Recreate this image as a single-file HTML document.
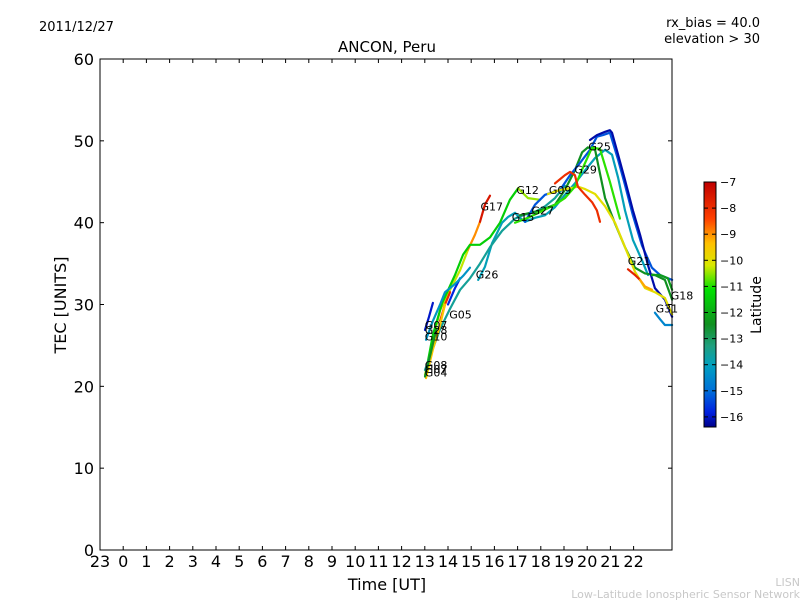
<!DOCTYPE html>
<html><head><meta charset="utf-8"><style>
body{margin:0;background:#fff;}
svg{display:block;font-family:"DejaVu Sans","Liberation Sans",sans-serif;}
</style></head><body>
<svg id="chart" width="800" height="600" viewBox="0 0 800 600" xmlns="http://www.w3.org/2000/svg">
<defs>
<linearGradient id="cbg" x1="0" y1="1" x2="0" y2="0">
<stop offset="0" stop-color="#00008a"/>
<stop offset="0.06" stop-color="#0020e0"/>
<stop offset="0.15" stop-color="#0070d8"/>
<stop offset="0.25" stop-color="#00a0c0"/>
<stop offset="0.33" stop-color="#20a080"/>
<stop offset="0.42" stop-color="#109020"/>
<stop offset="0.56" stop-color="#00e000"/>
<stop offset="0.66" stop-color="#d8e800"/>
<stop offset="0.75" stop-color="#ffc000"/>
<stop offset="0.85" stop-color="#ff4000"/>
<stop offset="1" stop-color="#c00000"/>
</linearGradient>
</defs>
<rect x="0" y="0" width="800" height="600" fill="#fff"/>
<text x="39" y="31" font-size="13">2011/12/27</text>
<text x="760" y="27" font-size="13" text-anchor="end">rx_bias = 40.0</text>
<text x="760" y="43" font-size="13" text-anchor="end">elevation &gt; 30</text>
<text x="387" y="52" font-size="15" text-anchor="middle">ANCON, Peru</text>
<g id="plot"></g>
<g id="axes"></g>
<g id="labels"></g>
<text transform="translate(66,305) rotate(-90)" font-size="16" text-anchor="middle">TEC [UNITS]</text>
<text x="387" y="590" font-size="16" text-anchor="middle">Time [UT]</text>
<rect x="704" y="182" width="12" height="245" fill="url(#cbg)" stroke="#000" stroke-width="1"/>
<g id="cbticks"></g>
<text transform="translate(761,305) rotate(-90)" font-size="14" text-anchor="middle">Latitude</text>
<text x="800" y="586" font-size="11" fill="#c8c8c8" text-anchor="end">LISN</text>
<text x="800" y="598" font-size="11" fill="#c8c8c8" text-anchor="end">Low-Latitude Ionospheric Sensor Network</text>
</svg>
<script>
const xTickLabels=["23","0","1","2","3","4","5","6","7","8","9","10","11","12","13","14","15","16","17","18","19","20","21","22"];
const yTicks=[0,10,20,30,40,50,60];
const cbTicks=[-7,-8,-9,-10,-11,-12,-13,-14,-15,-16];
const trackNames=["G17a","G17b","G17c","G12","G12b","G26","G15","G25","G29","G31","G09","G29b","G29r","G21","G21b","G18","G07","G05","G28","G10","G04","G08","G31b"];
const trackLats=[-10.3,-9,-7.5,-11.5,-10.5,-14,-13.6,-12.5,-15.3,-16.2,-10,-11,-8,-7.8,-9.2,-12.3,-16,-15.8,-8,-14.3,-9.5,-12.5,-14.6];
const trackHours=[
[13.01,13.35,13.66,14.09,14.52,14.86],
[14.86,15.16,15.38],
[15.38,15.59,15.81],
[13.05,13.35,13.75,14.30,14.65,14.95,15.38,15.81,16.24,16.67,17.02],
[17.02,17.45,17.97],
[15.30,15.59,15.90,16.33,16.59,16.89,17.10,17.32,17.75,18.18,18.61,19.04,19.47,19.91,20.34,20.77,21.07,21.33,21.63,21.97,22.36,22.62],
[13.01,13.66,14.09,14.52,14.95,15.38,15.81,16.33,16.89,17.32,17.75,18.18,18.61,19.04],
[17.10,17.97,18.61,19.04,19.47,19.78,20.03,20.34,20.55,20.77,21.20,21.63,22.06,22.49,22.92,23.35,23.66],
[17.32,17.75,18.18,18.83,19.26,19.69,20.12,20.42,20.68,20.98,21.33,21.63,21.97,22.36,22.79,23.14,23.48,23.66],
[20.12,20.42,20.77,20.98,21.07,21.33,21.63,21.97,22.28,22.62,22.92,23.35,23.66],
[18.31,18.83,19.26,19.60,19.91,20.34,20.77,21.20,21.63,22.06,22.49,22.92,23.35,23.66],
[16.89,17.45,17.97,18.61,19.04,19.47,19.78,20.21,20.55,20.98,21.41],
[18.61,19.04,19.26,19.47,19.60,19.91,20.21,20.42,20.55],
[21.76,22.06,22.28],
[22.28,22.49,22.79],
[22.79,23.14,23.48,23.66],
[13.01,13.18,13.35],
[14.00,14.30,14.52],
[13.66,13.87,14.09],
[13.05,13.35,13.66,13.87,14.30,14.65,14.95],
[13.05,13.35,13.66,13.87],
[13.01,13.25,13.50],
[22.92,23.14,23.35,23.66]
];
const trackTec=[
[21.4,25.7,29.3,31.8,34.2,36.7],
[36.7,38.5,40.1],
[40.1,42.2,43.3],
[21.8,26.3,30.2,33.6,36.1,37.3,37.3,38.2,40.0,42.8,44.2],
[44.2,43.0,42.8],
[33.0,34.6,37.5,40.0,40.7,41.2,40.6,40.1,40.6,40.9,41.9,43.4,44.8,46.4,47.9,48.9,48.3,45.5,41.5,37.9,35.4,33.6],
[22.0,27.0,29.5,31.8,33.2,35.0,37.0,39.0,40.5,41.0,41.3,42.0,43.0,44.5],
[40.9,41.5,42.2,44.0,46.4,48.6,49.2,48.9,46.0,43.0,39.9,37.0,34.5,33.8,33.6,33.0,30.6],
[40.1,42.2,43.4,44.0,45.8,47.3,48.9,50.5,50.7,51.0,47.7,44.6,40.9,37.2,34.5,33.6,33.2,33.0],
[50.1,50.7,51.1,51.3,51.0,48.3,45.2,41.5,38.5,34.8,32.0,30.6,28.5],
[43.5,44.0,44.2,44.4,44.1,43.5,42.0,40.0,37.0,34.0,32.0,31.5,30.8,28.8],
[40.0,40.6,41.3,42.2,43.0,44.4,46.5,49.2,49.0,45.0,40.5],
[44.8,45.8,46.2,45.8,44.4,43.4,42.5,41.5,40.1],
[34.3,33.6,33.0],
[33.0,32.2,31.8],
[33.6,33.6,33.2,31.8],
[26.9,28.5,30.2],
[30.0,32.0,33.2],
[28.0,30.0,31.5],
[25.7,28.0,30.0,31.5,32.5,33.5,34.5],
[21.0,24.5,27.5,30.0],
[21.2,24.0,27.0],
[29.0,28.2,27.5,27.5]
];
const satLabels=["G17","G12","G09","G15","G27","G25","G29","G26","G05","G07","G28","G10","G08","G07","G04","G21","G18","G31"];
const satLabelHours=[15.4,16.95,18.35,16.75,17.6,20.05,19.45,15.2,14.05,13.0,13.0,13.0,13.0,13.0,13.0,21.75,23.6,22.95];
const satLabelTec=[41.5,43.5,43.5,40.2,41.0,48.8,46.0,33.2,28.3,27.0,26.4,25.6,22.1,21.6,21.2,34.8,30.6,29.0];

const NS="http://www.w3.org/2000/svg";
const X0=100,X1=672,Y0=59,Y1=550;
function xs(h){return X0+(h+1)*23.2;}
function ys(t){return Y1-(t/60)*(Y1-Y0);}
function cbY(l){return 182+(-7-l)*26.1;}
const stops=[[-16.4,[0,0,138]],[-15.85,[0,32,224]],[-15.0,[0,112,216]],[-14.1,[0,160,192]],[-13.3,[32,160,128]],[-12.5,[16,144,32]],[-11.2,[0,224,0]],[-10.2,[216,232,0]],[-9.4,[255,192,0]],[-8.4,[255,64,0]],[-7,[192,0,0]]];
function col(l){
  if(l<=stops[0][0])return "rgb("+stops[0][1]+")";
  for(let i=1;i<stops.length;i++){
    if(l<=stops[i][0]){
      const a=stops[i-1],b=stops[i],f=(l-a[0])/(b[0]-a[0]);
      const c=a[1].map((v,k)=>Math.round(v+(b[1][k]-v)*f));
      return "rgb("+c.join(",")+")";
    }
  }
  return "rgb(192,0,0)";
}
function mk(tag,attrs,parent){const e=document.createElementNS(NS,tag);for(const k in attrs)e.setAttribute(k,attrs[k]);parent.appendChild(e);return e;}
const plot=document.getElementById("plot");
const axes=document.getElementById("axes");
trackHours.forEach((hs,i)=>{
  const d=hs.map((h,j)=>(j?"L":"M")+xs(h).toFixed(1)+","+ys(trackTec[i][j]).toFixed(1)).join(" ");
  const p=mk("path",{d:d,fill:"none",stroke:col(trackLats[i]),"stroke-width":2.2,"stroke-linejoin":"round","stroke-linecap":"round"},plot);
  
  
});
const fr=mk("rect",{x:X0,y:Y0,width:X1-X0,height:Y1-Y0,fill:"none",stroke:"#000","stroke-width":1},axes);


xTickLabels.forEach((lab,i)=>{
  const x=xs(i-1);
  mk("line",{x1:x,y1:Y1,x2:x,y2:Y1-4,stroke:"#000"},axes);
  mk("line",{x1:x,y1:Y0,x2:x,y2:Y0+4,stroke:"#000"},axes);
  const t=mk("text",{x:x,y:Y1+17,"font-size":16,"text-anchor":"middle"},axes);
  t.textContent=lab;
  
  
});
yTicks.forEach(v=>{
  const y=ys(v);
  mk("line",{x1:X0,y1:y,x2:X0+4,y2:y,stroke:"#000"},axes);
  mk("line",{x1:X1,y1:y,x2:X1-4,y2:y,stroke:"#000"},axes);
  const t=mk("text",{x:X0-6,y:y+6,"font-size":16,"text-anchor":"end"},axes);
  t.textContent=v;
  
  
});
const lg=document.getElementById("labels");
satLabels.forEach((s,i)=>{
  const t=mk("text",{x:xs(satLabelHours[i]).toFixed(1),y:ys(satLabelTec[i]).toFixed(1),"font-size":11},lg);
  t.textContent=s;
  
  
});
const cb=document.getElementById("cbticks");
cbTicks.forEach(v=>{
  const y=cbY(v);
  mk("line",{x1:704,y1:y,x2:708,y2:y,stroke:"#000"},cb);
  mk("line",{x1:716,y1:y,x2:712,y2:y,stroke:"#000"},cb);
  const t=mk("text",{x:720,y:y+4,"font-size":11},cb);
  t.textContent="\u2212"+Math.abs(v);
  
  
});
</script>
</body></html>
